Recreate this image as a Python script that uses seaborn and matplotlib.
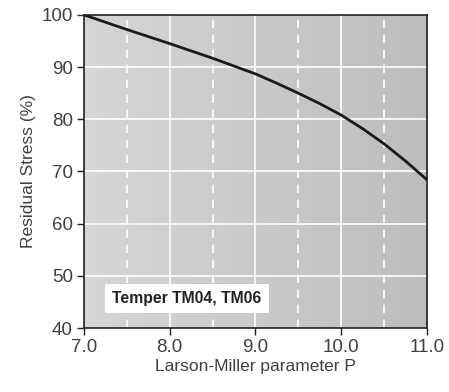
import numpy as np
import pandas as pd
import matplotlib
matplotlib.use("Agg")
import matplotlib.pyplot as plt
import seaborn as sns

# Residual stress curve
param_p = [7.0, 7.5, 8.0, 8.5, 9.0, 9.25, 9.5, 9.75, 10.0, 10.25, 10.5, 10.75, 11.0]
stress = [100.0, 97.2, 94.5, 91.7, 88.7, 86.9, 85.0, 83.0, 80.8, 78.2, 75.3, 72.0, 68.4]
x_major = [7.0, 8.0, 9.0, 10.0, 11.0]
x_minor = [7.5, 8.5, 9.5, 10.5]
y_ticks = [40, 50, 60, 70, 80, 90, 100]

df = pd.DataFrame({"P": param_p, "Stress": stress})

sns.set_style("ticks")
plt.rcParams["font.family"] = ["Liberation Sans", "DejaVu Sans"]

fig, ax = plt.subplots(figsize=(4.49, 3.92), dpi=100)
fig.subplots_adjust(left=0.187, right=0.951, top=0.962, bottom=0.163)

# gradient background, lighter on the left
grad = np.linspace(0, 1, 256).reshape(1, -1)
cmap = matplotlib.colors.LinearSegmentedColormap.from_list("bg", ["#d6d6d6", "#bdbdbd"])
ax.imshow(grad, extent=[7, 11, 40, 100], aspect="auto", cmap=cmap, zorder=0)

for y in y_ticks[1:-1]:
    ax.axhline(y, color="white", lw=1.2, zorder=1)
for x in x_major[1:-1]:
    ax.axvline(x, color="white", lw=1.2, zorder=1)
for x in x_minor:
    ax.axvline(x, color="white", lw=1.2, ls=(0, (5, 4)), zorder=1)

sns.lineplot(data=df, x="P", y="Stress", color="#1a1a1a", lw=2, ax=ax, zorder=3)

ax.set_xlim(7, 11)
ax.set_ylim(40, 100)
ax.set_xticks(x_major)
ax.set_xticklabels([f"{v:.1f}" for v in x_major])
ax.set_yticks(y_ticks)
ax.tick_params(labelsize=13.5, length=5, width=1, color="#222222", labelcolor="#404040", pad=3)
ax.set_xlabel("Larson-Miller parameter P", fontsize=12.5, color="#404040", labelpad=2)
ax.set_ylabel("Residual Stress (%)", fontsize=12.5, color="#404040", labelpad=4)
for s in ax.spines.values():
    s.set_color("#222222")
    s.set_linewidth(1.2)

ax.text(7.33, 45.6, "Temper TM04, TM06", fontsize=11.3, fontweight="bold", color="#222222",
        va="center", ha="left", zorder=4,
        bbox=dict(facecolor="white", edgecolor="none", boxstyle="square,pad=0.45"))

fig.savefig("out.png", dpi=100)
